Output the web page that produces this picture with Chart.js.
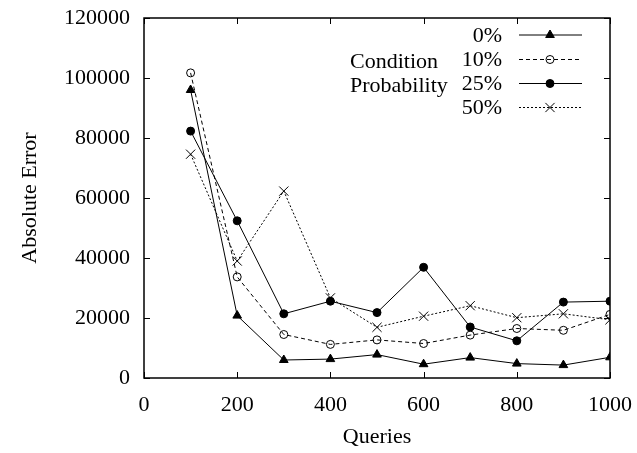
<!DOCTYPE html>
<html>
<head>
<meta charset="utf-8">
<script src="https://cdn.jsdelivr.net/npm/chart.js@4.4.1/dist/chart.umd.min.js"></script>
<style>
  html, body { margin: 0; padding: 0; background: #fff; }
  #wrap { width: 637px; height: 453px; }
</style>
</head>
<body>
<div id="wrap"><canvas id="c" width="637" height="453"></canvas></div>
<script>
// ---- data ----
const queries = [100, 200, 300, 400, 500, 600, 700, 800, 900, 1000];
const seriesLabels = ['0%', '10%', '25%', '50%'];
const err0  = [96000, 20800, 6000, 6300, 7800, 4600, 6800, 4800, 4300, 6900];
const err10 = [101700, 33700, 14500, 11200, 12700, 11500, 14300, 16500, 15900, 21200];
const err25 = [82300, 52400, 21400, 25600, 21800, 36900, 17000, 12400, 25300, 25600];
const err50 = [74600, 39000, 62300, 26700, 16900, 20600, 24100, 20100, 21400, 19400];
const xTicks = [0, 200, 400, 600, 800, 1000];
const yTicks = [0, 20000, 40000, 60000, 80000, 100000, 120000];
const legendTitle = ['Condition', 'Probability'];
const xTitle = 'Queries';
const yTitle = 'Absolute Error';

const FONT = 'Liberation Serif';
const toPts = arr => arr.map((v, i) => ({ x: queries[i], y: v }));

const styles = [
  { pointStyle: 'triangle', radius: 5, fill: '#000', dash: [] },
  { pointStyle: 'circle', radius: 4, fill: 'rgba(0,0,0,0)', dash: [4, 3] },
  { pointStyle: 'circle', radius: 4, fill: '#000', dash: [] },
  { pointStyle: 'crossRot', radius: 6.5, fill: '#000', dash: [2, 2] }
];
const allData = [err0, err10, err25, err50];

const datasets = allData.map((arr, i) => ({
  label: seriesLabels[i],
  data: toPts(arr),
  borderColor: '#000',
  borderWidth: 1,
  borderDash: styles[i].dash,
  pointStyle: styles[i].pointStyle,
  pointRadius: styles[i].radius,
  pointBackgroundColor: styles[i].fill,
  pointBorderColor: '#000',
  pointBorderWidth: 1,
  showLine: true,
  tension: 0,
  fill: false
}));

const framePlugin = {
  id: 'frame',
  afterDraw(chart) {
    const ctx = chart.ctx;
    const a = chart.chartArea;
    const xs = chart.scales.x, ys = chart.scales.y;
    ctx.save();
    ctx.strokeStyle = '#000';
    ctx.lineWidth = 1.5;
    ctx.setLineDash([]);
    ctx.strokeRect(a.left, a.top, a.right - a.left, a.bottom - a.top);
    ctx.lineWidth = 1;
    const tl = 6;
    xTicks.forEach(v => {
      const px = Math.round(xs.getPixelForValue(v)) + 0.5;
      ctx.beginPath();
      ctx.moveTo(px, a.bottom); ctx.lineTo(px, a.bottom - tl);
      ctx.moveTo(px, a.top); ctx.lineTo(px, a.top + tl);
      ctx.stroke();
    });
    yTicks.forEach(v => {
      const py = Math.round(ys.getPixelForValue(v)) + 0.5;
      ctx.beginPath();
      ctx.moveTo(a.left, py); ctx.lineTo(a.left + tl, py);
      ctx.moveTo(a.right, py); ctx.lineTo(a.right - tl, py);
      ctx.stroke();
    });

    // legend
    ctx.font = '22px "' + FONT + '"';
    ctx.fillStyle = '#000';
    ctx.textBaseline = 'middle';
    const rowY = [35, 59.5, 83.5, 107.5];
    const textRight = 502, lx0 = 519, lx1 = 582, mx = 550;
    chart.data.datasets.forEach((ds, i) => {
      const y = rowY[i];
      ctx.textAlign = 'right';
      ctx.fillText(ds.label, textRight, y + 1);
      ctx.beginPath();
      ctx.setLineDash(ds.borderDash);
      ctx.lineWidth = 1;
      ctx.moveTo(lx0, y); ctx.lineTo(lx1, y);
      ctx.stroke();
      ctx.setLineDash([]);
      ctx.fillStyle = ds.pointBackgroundColor;
      Chart.helpers.drawPoint(ctx, { pointStyle: ds.pointStyle, radius: ds.pointRadius, borderWidth: 1, rotation: 0 }, mx, y);
      ctx.fillStyle = '#000';
    });
    ctx.textAlign = 'left';
    ctx.fillText(legendTitle[0], 350, rowY[1] + 3);
    ctx.fillText(legendTitle[1], 350, rowY[2] + 3);
    ctx.restore();
  }
};

new Chart(document.getElementById('c'), {
  type: 'scatter',
  data: { datasets },
  options: {
    responsive: false,
    animation: false,
    devicePixelRatio: 1,
    layout: { padding: { left: 0, right: 27, top: 18, bottom: 0 } },
    plugins: { legend: { display: false }, tooltip: { enabled: false } },
    scales: {
      x: {
        type: 'linear',
        min: 0, max: 1000,
        afterBuildTicks: s => { s.ticks = xTicks.map(v => ({ value: v })); },
        afterFit: s => { s.height = 75; s.paddingLeft = 0; s.paddingRight = 0; },
        grid: { display: false, drawTicks: false },
        border: { display: false },
        ticks: { color: '#000', padding: 14, font: { family: FONT, size: 22 }, maxRotation: 0, autoSkip: false, callback: v => String(v) },
        title: { display: true, text: xTitle, color: '#000', font: { family: FONT, size: 22, lineHeight: 1.2 }, padding: { top: 0, bottom: 3 } }
      },
      y: {
        type: 'linear',
        min: 0, max: 120000,
        afterBuildTicks: s => { s.ticks = yTicks.map(v => ({ value: v })); },
        afterFit: s => { s.width = 144; s.paddingTop = 0; s.paddingBottom = 0; },
        grid: { display: false, drawTicks: false },
        border: { display: false },
        ticks: { color: '#000', padding: 14, font: { family: FONT, size: 22 }, autoSkip: false, callback: v => String(v) },
        title: { display: true, text: yTitle, color: '#000', font: { family: FONT, size: 22, lineHeight: 1.2 }, padding: { top: 17, bottom: 0 } }
      }
    }
  },
  plugins: [framePlugin]
});
</script>
</body>
</html>
